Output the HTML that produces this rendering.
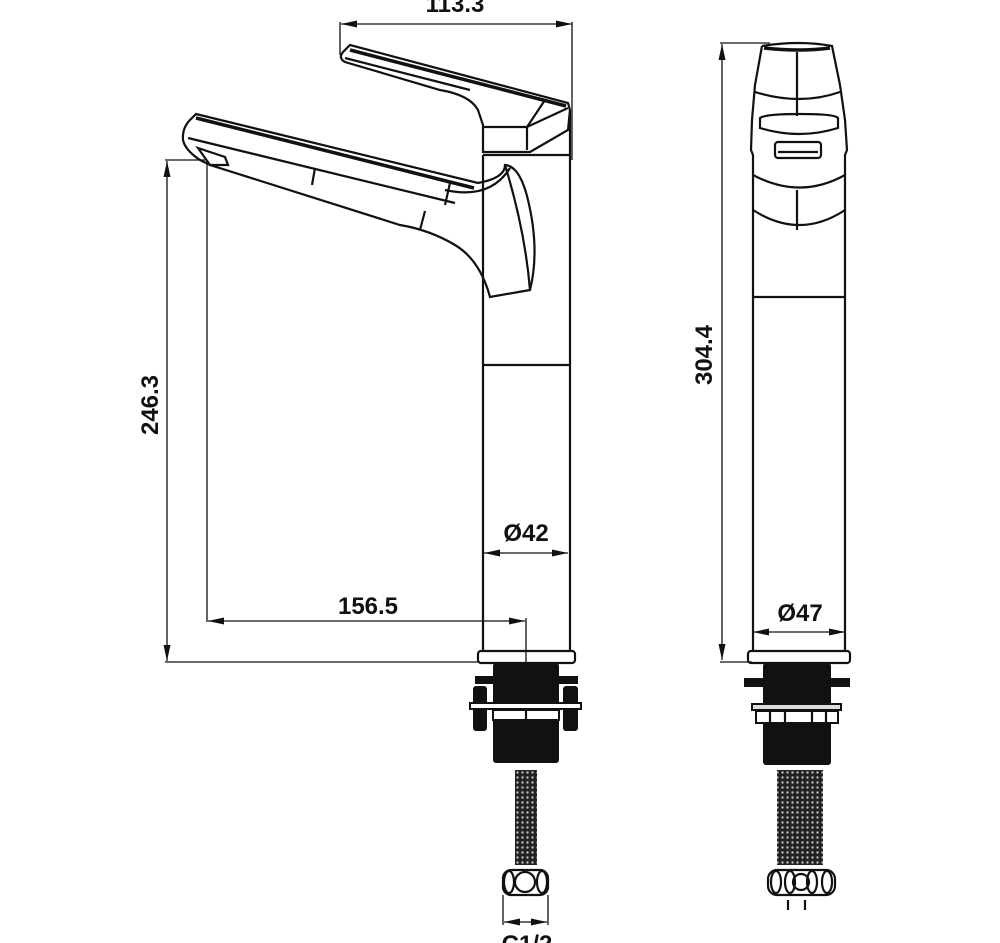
<!DOCTYPE html>
<html><head><meta charset="utf-8"><style>
html,body{margin:0;padding:0;background:#fff;}
svg{display:block}
text{font-family:"Liberation Sans",Arial,sans-serif;font-weight:bold;fill:#111;}
</style></head><body>
<svg width="1000" height="943" viewBox="0 0 1000 943" xmlns="http://www.w3.org/2000/svg">
<defs>
<marker id="a" viewBox="0 0 16 7" refX="16" refY="3.5" markerWidth="16" markerHeight="7" orient="auto-start-reverse" markerUnits="userSpaceOnUse"><path d="M0,0 L16,3.5 L0,7z" fill="#111"/></marker>
<pattern id="braid" width="5" height="5" patternUnits="userSpaceOnUse"><rect width="5" height="5" fill="#222"/><circle cx="2.5" cy="2.5" r="1.2" fill="#bbb"/></pattern>
</defs>
<g stroke="#111" fill="none" stroke-width="1.3">
<line x1="341" y1="24" x2="572" y2="24" marker-start="url(#a)" marker-end="url(#a)"/>
<line x1="340" y1="22" x2="340" y2="55"/>
<line x1="572" y1="22" x2="572" y2="160"/>
<line x1="167" y1="161" x2="167" y2="661" marker-start="url(#a)" marker-end="url(#a)"/>
<line x1="165" y1="160" x2="205" y2="160"/>
<line x1="165" y1="662" x2="480" y2="662"/>
<line x1="207" y1="160" x2="207" y2="622"/>
<line x1="208" y1="621" x2="525" y2="621" marker-start="url(#a)" marker-end="url(#a)"/>
<line x1="526" y1="618" x2="526" y2="663"/>
<line x1="484" y1="553" x2="568" y2="553" marker-start="url(#a)" marker-end="url(#a)"/>
</g>
<g stroke="#111" fill="none" stroke-width="2.2">
<path d="M343,52 L350,45 L568,103 L570,110 L568,130 L530,152 L483,152 L483,125 L478,110 Q470,95 440,90 L345,62 Q338,58 343,52z"/>
<path d="M350,50 L566,106" stroke-width="3.5"/>
<path d="M345,58 L470,90"/>
<path d="M483,127 L527,127 L527,150 M527,127 L545,100 M527,127 L568,108"/>
<line x1="483" y1="155" x2="570" y2="155"/>
<line x1="483" y1="155" x2="483" y2="651"/>
<line x1="570" y1="110" x2="570" y2="651"/>
<line x1="483" y1="365" x2="570" y2="365"/>
<path d="M190,120 L196,114 L478,183 Q505,178 505,165 Q520,166 528,200 Q540,250 530,290 L490,297 Q480,260 455,245 Q430,230 400,225 L210,165 L200,160 Q185,150 183,140 Q182,128 190,120z"/>
<path d="M196,118 L450,182 L474,188" stroke-width="3.5"/>
<path d="M188,138 L455,203"/>
<path d="M450,183 L445,205 M315,168 L312,185 M425,211 L420,230"/>
<path d="M445,190 Q490,200 510,168"/>
<path d="M505,165 Q525,230 530,290"/>
<path d="M198,148 L225,157 L228,165 L210,165 Z"/>
<rect x="478" y="651" width="97" height="12" rx="3"/>
</g>
<g fill="#111">
<rect x="493" y="663" width="66" height="100" rx="3"/>
<rect x="475" y="676" width="103" height="8"/>
<rect x="473" y="686" width="14" height="45" rx="3"/>
<rect x="563" y="686" width="15" height="45" rx="3"/>
<rect x="470" y="703" width="111" height="6" fill="#fff" stroke="#111" stroke-width="2"/>
<rect x="493" y="710" width="66" height="10" fill="#fff" stroke="#111" stroke-width="2"/>
<rect x="515" y="770" width="22" height="95" fill="url(#braid)"/>
</g>
<g stroke="#111" fill="none" stroke-width="2.2">
<line x1="526" y1="710" x2="526" y2="720"/>
<rect x="503" y="870" width="45" height="25" rx="8"/>
<ellipse cx="509" cy="882" rx="5" ry="11"/>
<ellipse cx="542" cy="882" rx="5" ry="11"/>
<circle cx="525" cy="882" r="10"/>
</g>
<g stroke="#111" fill="none" stroke-width="1.3">
<line x1="503" y1="895" x2="503" y2="925"/>
<line x1="548" y1="895" x2="548" y2="925"/>
<line x1="504" y1="922" x2="547" y2="922" marker-start="url(#a)" marker-end="url(#a)"/>
<line x1="722" y1="44" x2="722" y2="660" marker-start="url(#a)" marker-end="url(#a)"/>
<line x1="720" y1="43" x2="770" y2="43"/>
<line x1="720" y1="662" x2="752" y2="662"/>
<line x1="753" y1="632" x2="845" y2="632" marker-start="url(#a)" marker-end="url(#a)"/>
</g>
<g stroke="#111" fill="none" stroke-width="2.2">
<path d="M762,46 Q800,40 832,46 L840,85 L845,120 L847,150 L845,155 L845,651"/>
<path d="M762,46 L755,85 L752,120 L751,150 L753,155 L753,651"/>
<path d="M764,48 Q800,52 830,48" stroke-width="3.5"/>
<line x1="797" y1="52" x2="797" y2="116"/>
<path d="M755,92 Q800,106 840,92"/>
<path d="M760,118 Q765,114 800,114 Q835,114 838,118 L838,128 Q800,140 760,128 Z"/>
<rect x="775" y="142" width="46" height="16" rx="3"/>
<line x1="778" y1="152" x2="818" y2="152"/>
<path d="M753,175 Q800,200 845,175"/>
<path d="M753,210 Q800,240 845,210"/>
<line x1="797" y1="190" x2="797" y2="230"/>
<line x1="753" y1="297" x2="845" y2="297"/>
<rect x="748" y="651" width="102" height="12" rx="3"/>
</g>
<g fill="#111">
<rect x="763" y="663" width="68" height="102" rx="3"/>
<rect x="744" y="678" width="106" height="9"/>
<rect x="752" y="704" width="89" height="6" fill="#ddd" stroke="#111" stroke-width="2"/>
<rect x="756" y="711" width="82" height="12" fill="#fff" stroke="#111" stroke-width="2"/>
<rect x="777" y="770" width="46" height="95" fill="url(#braid)"/>
</g>
<g stroke="#111" fill="none" stroke-width="2.2">
<line x1="770" y1="711" x2="770" y2="723"/><line x1="785" y1="711" x2="785" y2="723"/><line x1="812" y1="711" x2="812" y2="723"/><line x1="826" y1="711" x2="826" y2="723"/>
<rect x="768" y="870" width="67" height="25" rx="9"/>
<ellipse cx="776" cy="882" rx="5" ry="11"/>
<ellipse cx="790" cy="882" rx="5" ry="11"/>
<circle cx="801" cy="882" r="8"/>
<ellipse cx="812" cy="882" rx="5" ry="11"/>
<ellipse cx="827" cy="882" rx="5" ry="11"/>
<line x1="788" y1="900" x2="788" y2="910"/>
<line x1="805" y1="900" x2="805" y2="910"/>
</g>
<text x="455" y="12" font-size="24" text-anchor="middle">113.3</text>
<text x="368" y="614" font-size="24" text-anchor="middle">156.5</text>
<text x="526" y="541" font-size="24" text-anchor="middle">Ø42</text>
<text x="800" y="621" font-size="24" text-anchor="middle">Ø47</text>
<text x="527" y="952" font-size="24" text-anchor="middle">C1/2</text>
<text transform="translate(158,405) rotate(-90)" font-size="24" text-anchor="middle">246.3</text>
<text transform="translate(712,355) rotate(-90)" font-size="24" text-anchor="middle">304.4</text>
</svg>
</body></html>
